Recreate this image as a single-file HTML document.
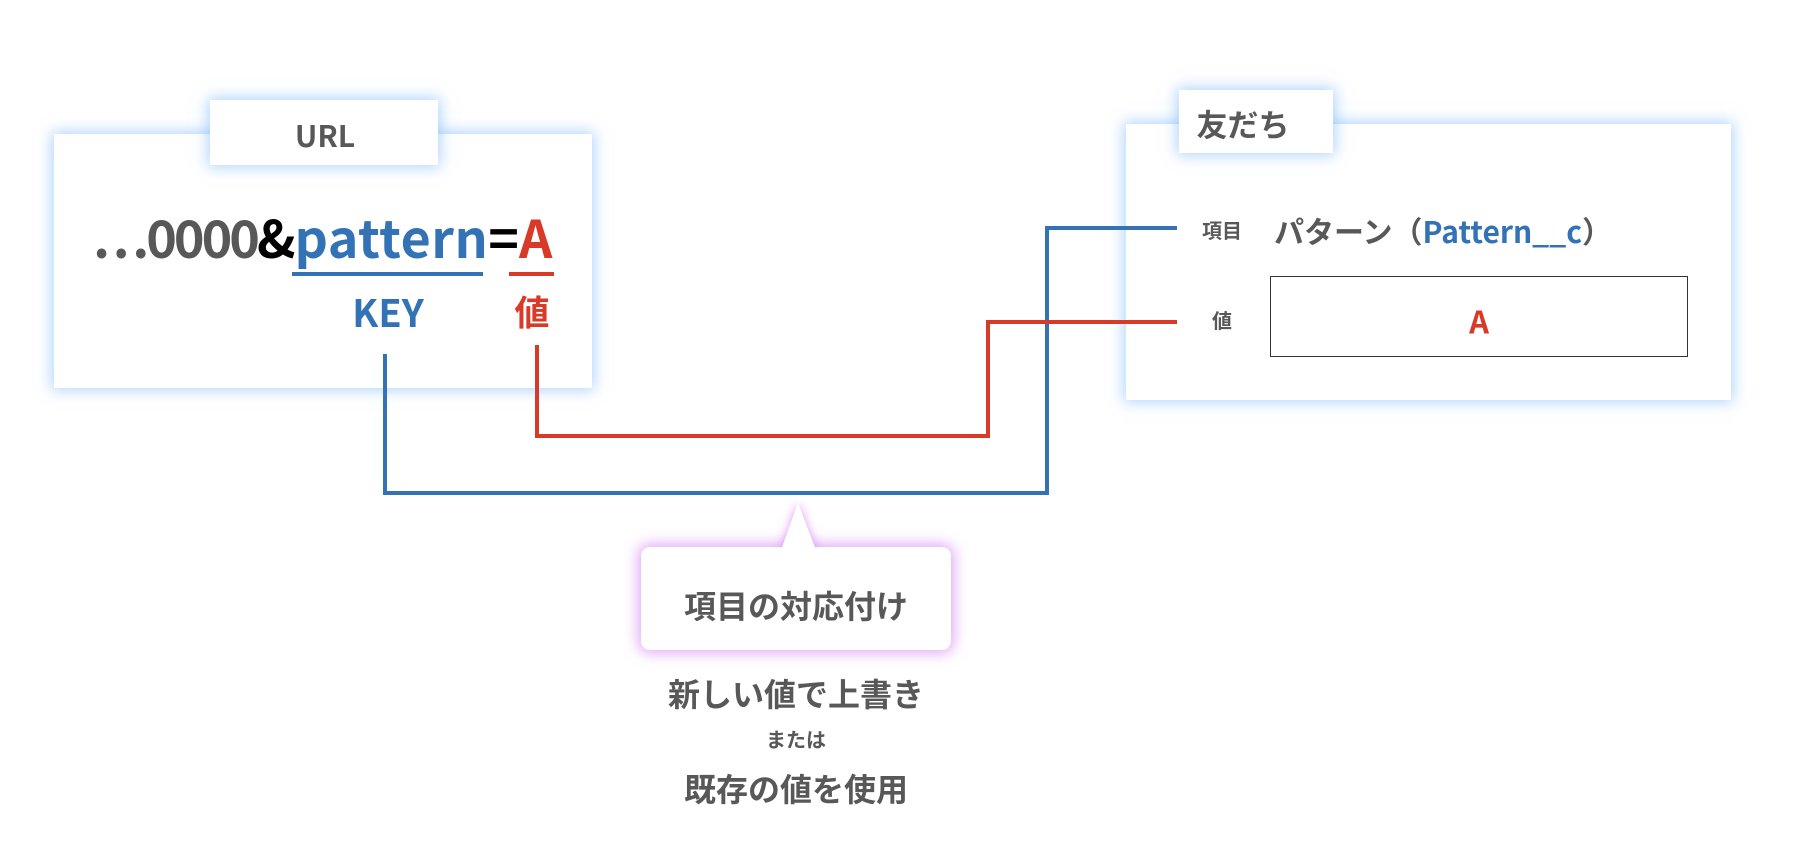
<!DOCTYPE html>
<html><head><meta charset="utf-8"><style>
body{margin:0;width:1818px;height:848px;background:#fff;position:relative;overflow:hidden;font-family:"Liberation Sans","Noto Sans CJK JP",sans-serif;font-weight:bold;color:#585858}
.box{position:absolute;background:#fff;box-shadow:0 0 14px 2px rgba(110,175,250,.55)}
.t{position:absolute;white-space:nowrap;line-height:1}
.c{transform:translate(-50%,-50%)}
.blue{color:#3373b5}.red{color:#d83a27}
</style></head><body>
<div class="box" style="left:54px;top:134px;width:538px;height:254px"></div>
<div class="box" style="left:210px;top:100px;width:228px;height:65px"></div>
<div class="t c" style="left:325px;top:134px;font-size:30px;font-family:'Noto Sans CJK JP',sans-serif">URL</div>
<div class="t" style="left:92px;top:205px;font-size:52px;font-family:'Noto Sans CJK JP',sans-serif;line-height:1.2"><span style="letter-spacing:-3px">…0000</span><span style="color:#000;letter-spacing:-1px">&amp;</span><span class="blue" style="letter-spacing:0.5px">pattern</span><span style="color:#000">=</span><span class="red">A</span></div>
<div style="position:absolute;left:292px;top:272px;width:191px;height:4px;background:#3373b5"></div>
<div style="position:absolute;left:509px;top:272px;width:45px;height:4px;background:#d83a27"></div>
<div class="t c blue" style="left:388px;top:311px;font-size:38px;font-family:'Noto Sans CJK JP',sans-serif">KEY</div>
<div class="t c red" style="left:532px;top:311px;font-size:35px;font-family:'Noto Sans CJK JP',sans-serif">値</div>

<div class="box" style="left:1126px;top:124px;width:605px;height:276px"></div>
<div class="box" style="left:1179px;top:90px;width:154px;height:63px"></div>
<div class="t c" style="left:1243px;top:123px;font-size:31px;font-family:'Noto Sans CJK JP',sans-serif">友だち</div>
<div class="t c" style="left:1222px;top:230px;font-size:20px;font-family:'Noto Sans CJK JP',sans-serif">項目</div>
<div class="t" style="left:1274px;top:212px;font-size:30px;font-family:'Noto Sans CJK JP',sans-serif;line-height:1.2">パターン（<span class="blue">Pattern__c</span>）</div>
<div class="t c" style="left:1222px;top:320px;font-size:20px;font-family:'Noto Sans CJK JP',sans-serif">値</div>
<div style="position:absolute;left:1270px;top:276px;width:416px;height:79px;border:1.5px solid #333"></div>
<div class="t c red" style="left:1479px;top:320px;font-size:31px;font-family:'Noto Sans CJK JP',sans-serif">A</div>

<div style="position:absolute;left:641px;top:547px;width:310px;height:103px;background:#fff;border-radius:9px;box-shadow:0 0 14px 3px rgba(205,110,240,.6)"></div>
<svg style="position:absolute;left:0;top:0" width="1818" height="848">
<polyline points="385,354 385,493 1047,493 1047,228 1177,228" fill="none" stroke="#3373b5" stroke-width="4"/>
<polyline points="537,345 537,436 988,436 988,322 1177,322" fill="none" stroke="#d83a27" stroke-width="4"/>
<polygon points="798,503 781,550 816,550" fill="#fff" style="filter:drop-shadow(0 0 5px rgba(205,110,240,.7))"/>
<rect x="770" y="548" width="60" height="20" fill="#fff"/>
</svg>
<div class="t c" style="left:796px;top:605px;font-size:32px;font-family:'Noto Sans CJK JP',sans-serif">項目の対応付け</div>
<div class="t c" style="left:796px;top:693px;font-size:32px;font-family:'Noto Sans CJK JP',sans-serif">新しい値で上書き</div>
<div class="t c" style="left:796px;top:739px;font-size:20px;font-family:'Noto Sans CJK JP',sans-serif">または</div>
<div class="t c" style="left:796px;top:788px;font-size:32px;font-family:'Noto Sans CJK JP',sans-serif">既存の値を使用</div>
</body></html>
